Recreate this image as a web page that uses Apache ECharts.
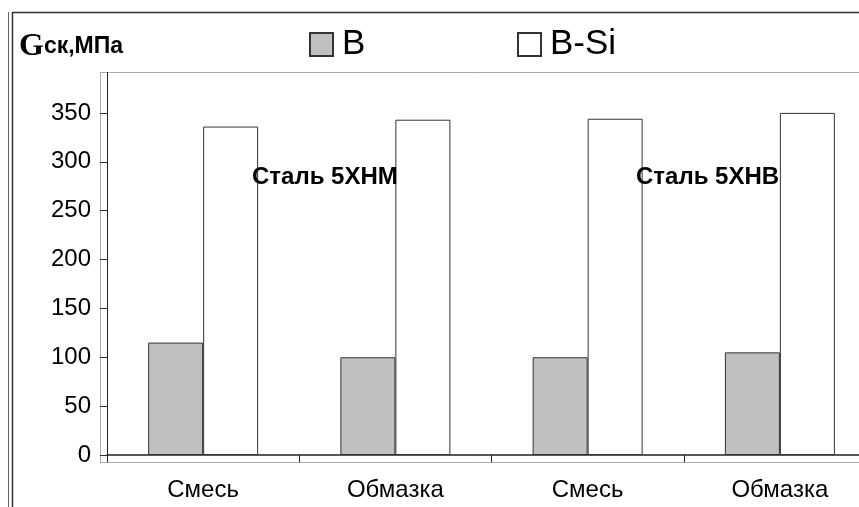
<!DOCTYPE html>
<html>
<head>
<meta charset="utf-8">
<script src="https://cdn.jsdelivr.net/npm/echarts@6/dist/echarts.min.js"></script>
<style>html,body{margin:0;padding:0;background:#fff}#c{width:859px;height:507px}</style>
</head>
<body>
<div id="c"></div>
<script>
const categories = ['Смесь', 'Обмазка', 'Смесь', 'Обмазка'];
const seriesNames = ['B', 'B-Si'];
const valuesB = [115, 100, 100, 105];
const valuesBSi = [336, 343, 344, 350];
const yTicks = { min: 0, max: 400, interval: 50 };
const annotations = ['Сталь 5ХНМ', 'Сталь 5ХНВ'];
const yTitleMain = 'G';
const yTitleSub = 'ск,МПа';

const FONT = '"Liberation Sans", Arial, sans-serif';
const chart = echarts.init(document.getElementById('c'), null, { renderer: 'canvas' });

const option = {
  backgroundColor: '#fff',
  animation: false,
  title: {
    text: '{g|' + yTitleMain + '}{s|' + yTitleSub + '}',
    left: 19, top: 31, padding: 0,
    textStyle: {
      rich: {
        g: { fontFamily: '"Liberation Serif", "Times New Roman", serif', fontWeight: 'bold', fontSize: 32, color: '#000' },
        s: { fontFamily: FONT, fontWeight: 'bold', fontSize: 23, color: '#000' }
      }
    }
  },
  legend: [
    { data: [seriesNames[0]], left: 309, top: 27, padding: 0, icon: 'rect', itemWidth: 23, itemHeight: 23, itemGap: 0,
      textStyle: { fontFamily: FONT, fontSize: 35, color: '#000', padding: [0, 0, 0, 4] } },
    { data: [seriesNames[1]], left: 517, top: 27, padding: 0, icon: 'rect', itemWidth: 23, itemHeight: 23, itemGap: 0,
      textStyle: { fontFamily: FONT, fontSize: 35, color: '#000', padding: [0, 0, 0, 4] } }
  ],
  grid: { left: 107, width: 769, top: 64, bottom: 52, containLabel: false, outerBoundsMode: 'none' },
  xAxis: {
    type: 'category',
    data: categories,
    axisLine: { lineStyle: { color: '#222', width: 1.5 } },
    axisTick: { show: true, length: 7, lineStyle: { color: '#222' } },
    axisLabel: { fontFamily: FONT, fontSize: 24, color: '#000', margin: 23 },
    splitLine: { show: false }
  },
  yAxis: {
    type: 'value',
    min: yTicks.min, max: yTicks.max, interval: yTicks.interval,
    axisLine: { show: false },
    axisTick: { show: true, length: 7, lineStyle: { color: '#333' } },
    axisLabel: { fontFamily: FONT, fontSize: 24, color: '#000', margin: 16, showMaxLabel: false },
    splitLine: { show: false }
  },
  series: [
    { name: seriesNames[0], type: 'bar', data: valuesB, barWidth: 55, barGap: '0%',
      itemStyle: { color: '#c0c0c0', borderColor: '#333', borderWidth: 1 } },
    { name: seriesNames[1], type: 'bar', data: valuesBSi, barWidth: 55, barGap: '0%',
      itemStyle: { color: '#ffffff', borderColor: '#333', borderWidth: 1 } }
  ],
  graphic: [
    { type: 'line', shape: { x1: 8.5, y1: 12, x2: 8.5, y2: 507 }, style: { stroke: '#666', lineWidth: 1 } },
    { type: 'line', shape: { x1: 12.5, y1: 12, x2: 12.5, y2: 507 }, style: { stroke: '#333', lineWidth: 1.5 } },
    { type: 'line', shape: { x1: 12, y1: 12.5, x2: 859, y2: 12.5 }, style: { stroke: '#333', lineWidth: 1.5 } },
    { type: 'line', shape: { x1: 100, y1: 72.5, x2: 859, y2: 72.5 }, style: { stroke: '#aaa', lineWidth: 1 } },
    { type: 'line', shape: { x1: 100.5, y1: 72, x2: 100.5, y2: 462 }, style: { stroke: '#aaa', lineWidth: 1 } },
    { type: 'line', shape: { x1: 100, y1: 462.5, x2: 859, y2: 462.5 }, style: { stroke: '#aaa', lineWidth: 1 } },
    { type: 'line', shape: { x1: 107.5, y1: 72, x2: 107.5, y2: 462 }, style: { stroke: '#222', lineWidth: 1 } },
    { type: 'text', left: 252, top: 165, z: 10,
      style: { text: annotations[0], font: 'bold 24px ' + FONT, fill: '#000' } },
    { type: 'text', left: 636, top: 165, z: 10,
      style: { text: annotations[1], font: 'bold 24px ' + FONT, fill: '#000' } }
  ]
};
chart.setOption(option);
</script>
</body>
</html>
